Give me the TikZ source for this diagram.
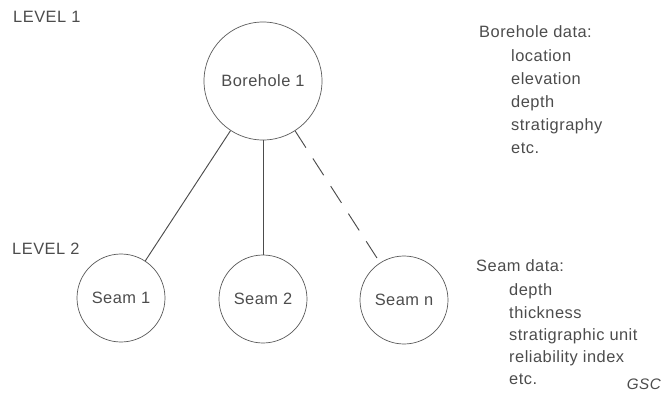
\documentclass[tikz,border=0pt]{standalone}
\usepackage{fontspec}
\setmainfont{Liberation Sans}[LetterSpace=3]
\usepackage{tikz}
\usetikzlibrary{arrows.meta, positioning}

\begin{document}
\begin{tikzpicture}[
    x=0.03cm,
    y=-0.03cm,
    record/.style={
        circle,
        draw=black!65,
        line width=0.6pt,
        minimum size=3.54cm,
        inner sep=0pt,
        align=center,
        text=black!70,
        font=\fontsize{14}{16}\selectfont
    },
    seam/.style={
        record,
        minimum size=2.64cm
    },
    label/.style={
        anchor=base west,
        inner sep=0pt,
        text=black!70,
        font=\fontsize{14}{16}\selectfont
    },
    link/.style={
        -,
        line width=0.8pt,
        black!70
    },
    partial/.style={
        link,
        dash pattern=on 17pt off 11pt
    }
]

\useasboundingbox (0,0) rectangle (661,393);

% =============== NIVEAUX ===============

\node[label] (level_one) at (13, 23) {LEVEL 1};
\node[label] (level_two) at (12, 254) {LEVEL 2};

% =============== FORAGE ET VEINES ===============

% Forage (niveau 1)
\node[record] (borehole) at (263, 81) {Borehole 1};

% Veines (niveau 2)
\node[seam] (seam_one)  at (121, 298) {Seam 1};
\node[seam] (seam_two)  at (263, 299) {Seam 2};
\node[seam] (seam_last) at (404, 300) {Seam n};

% Liaisons forage -> veines
\draw[link] (borehole) -- (seam_one);
\draw[link] (borehole) -- (seam_two);
\draw[partial] (borehole) -- (seam_last);

% =============== ATTRIBUTS ===============

% Données du forage
\node[label] (bh_data)      at (479, 37.5) {Borehole data:};
\node[label] (bh_location)  at (511, 61.5) {location};
\node[label] (bh_elevation) at (511, 84.5) {elevation};
\node[label] (bh_depth)     at (511, 107.5) {depth};
\node[label] (bh_strat)     at (511, 130.5) {stratigraphy};
\node[label] (bh_etc)       at (511, 153.5) {etc.};

% Données des veines
\node[label] (sm_data)      at (476, 271) {Seam data:};
\node[label] (sm_depth)     at (509, 295.5) {depth};
\node[label] (sm_thickness) at (509, 318) {thickness};
\node[label] (sm_unit)      at (509, 340) {stratigraphic unit};
\node[label] (sm_reliab)    at (509, 362) {reliability index};
\node[label] (sm_etc)       at (509, 384) {etc.};

% Source
\node[label, anchor=base east, font=\fontsize{13}{15}\selectfont\itshape] (source) at (661, 389) {GSC};

\end{tikzpicture}
\end{document}
